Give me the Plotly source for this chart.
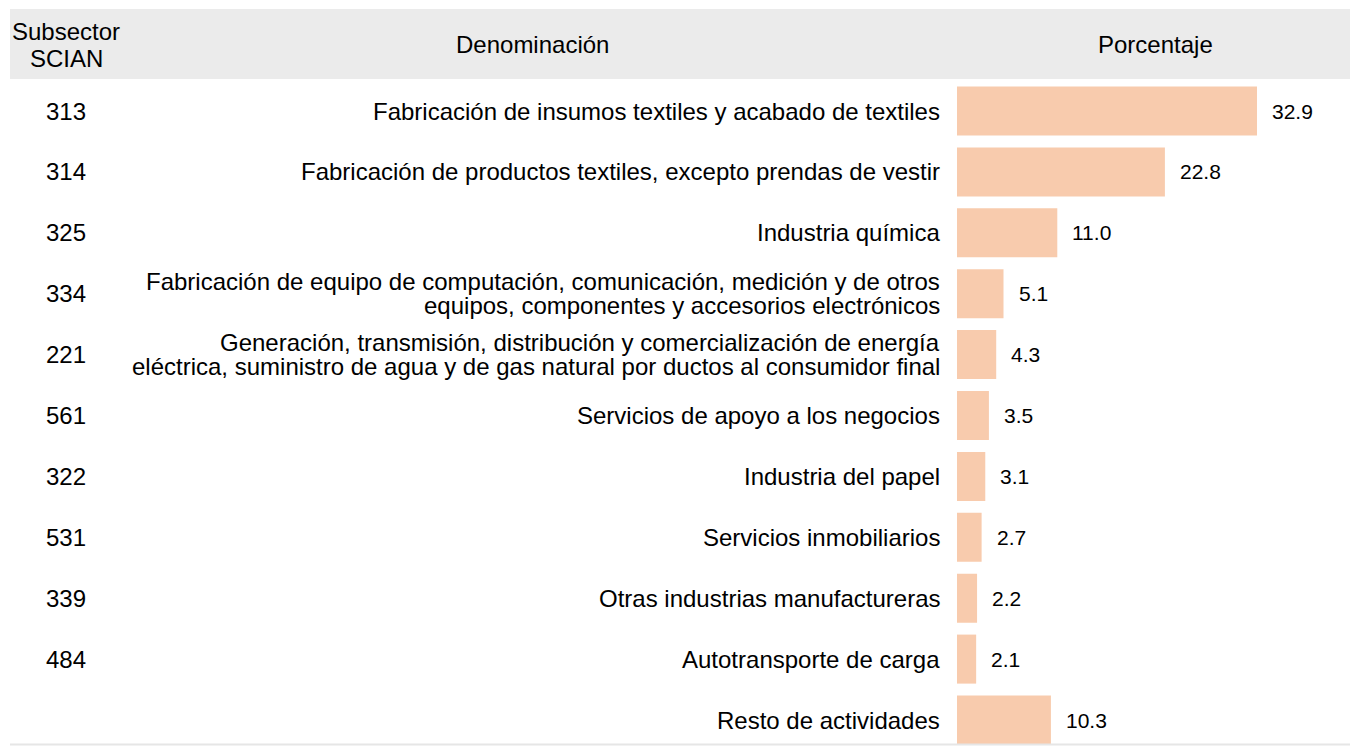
import plotly.graph_objects as go

codes = ["313", "314", "325", "334", "221", "561", "322", "531", "339", "484", ""]
names = [
    "Fabricación de insumos textiles y acabado de textiles",
    "Fabricación de productos textiles, excepto prendas de vestir",
    "Industria química",
    "Fabricación de equipo de computación, comunicación, medición y de otros<br>equipos, componentes y accesorios electrónicos",
    "Generación, transmisión, distribución y comercialización de energía<br>eléctrica, suministro de agua y de gas natural por ductos al consumidor final",
    "Servicios de apoyo a los negocios",
    "Industria del papel",
    "Servicios inmobiliarios",
    "Otras industrias manufactureras",
    "Autotransporte de carga",
    "Resto de actividades",
]
values = [32.9, 22.8, 11.0, 5.1, 4.3, 3.5, 3.1, 2.7, 2.2, 2.1, 10.3]
headers = ["Subsector<br>SCIAN", "Denominación", "Porcentaje"]

W, H = 1358, 746
OFF = 8  # page body margin
FONT = "Arial, Liberation Sans, sans-serif"
BAR = "#f8cbad"
TXT = 24
VAL = 21
rows = list(range(len(values)))

fig = go.Figure()
fig.add_trace(go.Bar(
    x=values, y=rows, orientation="h", width=0.805,
    marker=dict(color=BAR, line=dict(width=0)),
    hoverinfo="skip",
))

def px_(p):
    return (p - OFF) / W

def py(p):
    return 1 - (p - OFF) / H

shapes = [
    dict(type="rect", xref="paper", yref="paper", x0=px_(10), x1=1, y0=py(79), y1=py(9),
         fillcolor="#ebebeb", line=dict(width=0), layer="below"),
    dict(type="line", xref="paper", yref="paper", x0=px_(10), x1=1, y0=py(744.5), y1=py(744.5),
         line=dict(color="#e6e6e6", width=2)),
]

def font(s):
    return dict(size=s, family=FONT, color="black")

ann = []
h1 = headers[0].split("<br>")
ann.append(dict(text=h1[0], x=px_(66), y=py(31), xref="paper", yref="paper", showarrow=False,
                xanchor="center", yanchor="middle", font=font(TXT)))
ann.append(dict(text=h1[1], x=px_(66), y=py(58), xref="paper", yref="paper", showarrow=False,
                xanchor="center", yanchor="middle", font=font(TXT)))
ann.append(dict(text=headers[1], x=px_(532), y=py(44), xref="paper", yref="paper", showarrow=False,
                xanchor="center", yanchor="middle", font=font(TXT)))
ann.append(dict(text=headers[2], x=px_(1155), y=py(44), xref="paper", yref="paper", showarrow=False,
                xanchor="center", yanchor="middle", font=font(TXT)))

for i, (c, n, v) in enumerate(zip(codes, names, values)):
    if c:
        ann.append(dict(text=c, x=px_(66), y=i, xref="paper", yref="y", showarrow=False,
                        xanchor="center", yanchor="middle", font=font(TXT)))
    parts = n.split("<br>")
    shifts = [0] if len(parts) == 1 else [12, -12]
    for p, s in zip(parts, shifts):
        ann.append(dict(text=p, x=px_(942), y=i, xref="paper", yref="y", showarrow=False, yshift=s,
                        xanchor="right", yanchor="middle", font=font(TXT)))
    ann.append(dict(text=f"{v:.1f}", x=v, y=i, xref="x", yref="y", showarrow=False, xshift=13,
                    xanchor="left", yanchor="middle", font=font(VAL)))

x0 = 957 - OFF
scale = 300 / 32.9
c0 = 111 - OFF
fig.update_layout(
    width=W, height=H,
    margin=dict(l=0, r=0, t=0, b=0),
    paper_bgcolor="white", plot_bgcolor="rgba(0,0,0,0)",
    showlegend=False,
    xaxis=dict(domain=[x0 / W, 1], range=[0, (W - x0) / scale], visible=False, fixedrange=True),
    yaxis=dict(domain=[0, 1], range=[(H - c0) / 60.9, -c0 / 60.9], visible=False, fixedrange=True),
    shapes=shapes,
    annotations=ann,
)
fig.write_html("out.html")
